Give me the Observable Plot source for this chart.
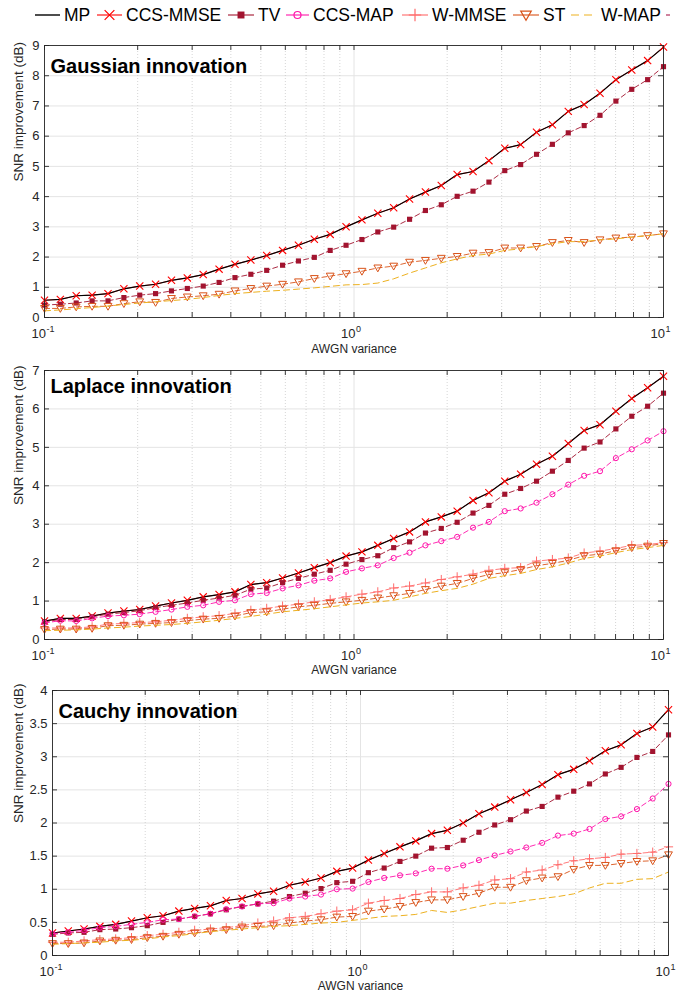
<!DOCTYPE html>
<html><head><meta charset="utf-8">
<script src="https://cdn.jsdelivr.net/npm/d3@7"></script>
<script src="https://cdn.jsdelivr.net/npm/@observablehq/plot@0.6"></script>
<style>
html,body{margin:0;padding:0;background:#fff;}
#wrap{position:relative;width:690px;height:996px;overflow:hidden;font-family:"Liberation Sans",Arial,Helvetica,sans-serif;}
#wrap svg{position:absolute;left:0;}
</style></head><body><div id="wrap"></div>
<script>
// ---------------- data ----------------
const variance = [0.1,0.1125,0.1266,0.1425,0.1604,0.1805,0.2031,0.2285,0.2572,0.2894,0.3257,0.3665,0.4125,0.4642,0.5223,0.5878,0.6615,0.7444,0.8377,0.9427,1.0608,1.1938,1.3434,1.5118,1.7013,1.9145,2.1544,2.4244,2.7282,3.0702,3.4551,3.8882,4.3755,4.9239,5.5410,6.2355,7.0170,7.8970,8.8862,10];
const seriesNames = ["MP","CCS-MMSE","TV","CCS-MAP","W-MMSE","ST","W-MAP"];
const panelTitles = ["Gaussian innovation","Laplace innovation","Cauchy innovation"];
const xMajorTicks = [0.1,1,10];
const xMajorExponents = ["-1","0","1"];
const xMinorTicks = [0.2,0.3,0.4,0.5,0.6,0.7,0.8,0.9,2,3,4,5,6,7,8,9];
const yTicksGauss = [0,1,2,3,4,5,6,7,8,9];
const yTicksLaplace = [0,1,2,3,4,5,6,7];
const yTicksCauchy = [0,0.5,1,1.5,2,2.5,3,3.5,4];
const xLabel = "AWGN variance";
const yLabel = "SNR improvement (dB)";

// Gaussian innovation
const gaussMP = [0.57,0.6,0.72,0.74,0.79,0.95,1.04,1.1,1.23,1.31,1.42,1.6,1.76,1.9,2.05,2.22,2.39,2.59,2.75,3.0,3.23,3.45,3.63,3.92,4.15,4.37,4.73,4.83,5.19,5.6,5.72,6.13,6.38,6.82,7.05,7.42,7.87,8.19,8.5,8.94];
const gaussCCSMMSE = [0.57,0.6,0.72,0.74,0.79,0.95,1.04,1.1,1.23,1.31,1.42,1.6,1.76,1.9,2.05,2.22,2.39,2.59,2.75,3.0,3.23,3.45,3.63,3.92,4.15,4.37,4.73,4.83,5.19,5.6,5.72,6.13,6.38,6.82,7.05,7.42,7.87,8.19,8.5,8.95];
const gaussTV = [0.41,0.44,0.48,0.55,0.55,0.66,0.74,0.79,0.88,0.96,1.04,1.16,1.32,1.43,1.56,1.73,1.87,1.99,2.22,2.39,2.58,2.83,2.99,3.25,3.54,3.73,4.01,4.18,4.48,4.86,5.06,5.4,5.73,6.11,6.35,6.69,7.16,7.55,7.87,8.3];
const gaussST = [0.3,0.3,0.35,0.37,0.37,0.46,0.52,0.5,0.63,0.68,0.72,0.77,0.88,0.96,1.04,1.1,1.18,1.29,1.37,1.45,1.53,1.64,1.7,1.83,1.89,1.96,2.02,2.13,2.15,2.3,2.3,2.35,2.48,2.55,2.48,2.57,2.63,2.66,2.71,2.77];
const gaussWMAP = [0.22,0.25,0.29,0.33,0.38,0.43,0.48,0.52,0.56,0.6,0.66,0.73,0.79,0.83,0.87,0.9,0.94,0.98,1.03,1.08,1.09,1.14,1.28,1.47,1.64,1.81,1.94,2.05,2.1,2.22,2.27,2.35,2.44,2.51,2.51,2.57,2.6,2.66,2.71,2.77];

// Laplace innovation
const lapMP = [0.48,0.55,0.55,0.61,0.69,0.74,0.78,0.87,0.95,1.02,1.11,1.17,1.24,1.43,1.48,1.6,1.73,1.87,2.0,2.17,2.28,2.45,2.63,2.8,3.06,3.19,3.34,3.62,3.82,4.12,4.3,4.56,4.77,5.1,5.44,5.59,5.94,6.27,6.55,6.85];
const lapCCSMMSE = [0.48,0.55,0.55,0.61,0.69,0.74,0.78,0.87,0.95,1.02,1.11,1.17,1.24,1.43,1.48,1.6,1.73,1.87,2.0,2.17,2.28,2.45,2.63,2.8,3.06,3.19,3.34,3.62,3.82,4.12,4.3,4.56,4.77,5.1,5.44,5.59,5.94,6.27,6.55,6.85];
const lapTV = [0.46,0.52,0.52,0.59,0.66,0.7,0.75,0.83,0.89,0.95,1.02,1.08,1.15,1.31,1.34,1.48,1.59,1.7,1.8,1.96,2.08,2.18,2.39,2.54,2.77,2.89,3.05,3.29,3.49,3.78,3.93,4.12,4.38,4.66,4.98,5.14,5.48,5.81,6.07,6.41];
const lapCCSMAP = [0.43,0.49,0.48,0.55,0.61,0.63,0.66,0.72,0.78,0.85,0.89,0.98,1.02,1.18,1.21,1.33,1.41,1.53,1.59,1.76,1.85,1.93,2.12,2.26,2.45,2.56,2.67,2.91,3.06,3.34,3.41,3.56,3.78,4.03,4.26,4.38,4.72,4.95,5.18,5.42];
const lapWMMSE = [0.3,0.3,0.3,0.33,0.4,0.42,0.44,0.46,0.5,0.55,0.59,0.62,0.68,0.76,0.81,0.87,0.92,0.98,1.04,1.11,1.18,1.24,1.34,1.39,1.47,1.56,1.63,1.7,1.8,1.85,1.87,2.04,2.08,2.12,2.25,2.3,2.37,2.45,2.47,2.52];
const lapST = [0.26,0.27,0.27,0.29,0.36,0.37,0.4,0.42,0.44,0.49,0.53,0.55,0.61,0.7,0.72,0.79,0.85,0.89,0.94,0.98,1.02,1.08,1.14,1.2,1.3,1.39,1.46,1.59,1.69,1.74,1.82,1.92,1.98,2.06,2.18,2.22,2.31,2.39,2.43,2.5];
const lapWMAP = [0.23,0.24,0.25,0.27,0.3,0.32,0.35,0.37,0.39,0.42,0.46,0.5,0.55,0.6,0.66,0.72,0.76,0.8,0.85,0.9,0.95,0.98,1.02,1.11,1.2,1.27,1.33,1.44,1.59,1.66,1.72,1.82,1.89,1.99,2.11,2.17,2.26,2.34,2.39,2.45];

// Cauchy innovation
const cauMP = [0.34,0.37,0.4,0.44,0.47,0.52,0.57,0.6,0.67,0.71,0.75,0.83,0.86,0.93,0.97,1.06,1.11,1.17,1.27,1.32,1.44,1.54,1.64,1.73,1.84,1.89,2.0,2.14,2.24,2.35,2.46,2.58,2.73,2.81,2.94,3.09,3.18,3.35,3.45,3.71];
const cauCCSMMSE = [0.34,0.37,0.4,0.44,0.47,0.52,0.57,0.6,0.67,0.71,0.75,0.83,0.86,0.93,0.97,1.06,1.11,1.17,1.27,1.32,1.44,1.54,1.64,1.73,1.84,1.89,2.0,2.14,2.24,2.35,2.46,2.58,2.73,2.81,2.94,3.09,3.18,3.35,3.45,3.71];
const cauTV = [0.32,0.34,0.35,0.39,0.4,0.42,0.45,0.5,0.55,0.59,0.63,0.69,0.74,0.78,0.82,0.89,0.94,1.01,1.1,1.12,1.25,1.32,1.42,1.5,1.62,1.63,1.74,1.86,1.97,2.05,2.18,2.25,2.39,2.48,2.59,2.74,2.84,2.99,3.08,3.33];
const cauCCSMAP = [0.33,0.35,0.38,0.42,0.44,0.47,0.5,0.54,0.55,0.59,0.63,0.7,0.74,0.78,0.79,0.86,0.89,0.92,1.0,1.01,1.11,1.17,1.21,1.24,1.31,1.31,1.36,1.44,1.51,1.57,1.63,1.7,1.81,1.84,1.91,2.06,2.1,2.21,2.37,2.59];
const cauWMMSE = [0.2,0.2,0.22,0.24,0.25,0.27,0.3,0.32,0.35,0.38,0.4,0.42,0.45,0.49,0.52,0.57,0.59,0.63,0.67,0.69,0.79,0.83,0.86,0.92,0.96,0.96,1.02,1.06,1.14,1.16,1.26,1.29,1.37,1.43,1.46,1.48,1.53,1.54,1.56,1.64];
const cauST = [0.18,0.18,0.19,0.22,0.23,0.24,0.27,0.29,0.32,0.34,0.37,0.39,0.43,0.44,0.45,0.49,0.52,0.54,0.58,0.59,0.67,0.7,0.74,0.8,0.84,0.84,0.89,0.94,1.03,1.03,1.13,1.17,1.19,1.3,1.36,1.36,1.39,1.42,1.43,1.52];
const cauWMAP = [0.17,0.18,0.19,0.2,0.22,0.23,0.25,0.28,0.3,0.33,0.36,0.38,0.4,0.42,0.44,0.45,0.47,0.49,0.5,0.53,0.56,0.59,0.6,0.62,0.68,0.65,0.69,0.74,0.79,0.79,0.83,0.86,0.89,0.93,1.02,1.09,1.09,1.15,1.16,1.26];

// ---------------- styles ----------------
const FONT = '"Liberation Sans", Arial, Helvetica, sans-serif';
const AX = "#262626";
const symTimes = {draw(c, s){const r=Math.sqrt(s/Math.PI); c.moveTo(-r,-r); c.lineTo(r,r); c.moveTo(-r,r); c.lineTo(r,-r);}};
const symPlus = {draw(c, s){const r=Math.sqrt(s/Math.PI); c.moveTo(-r,0); c.lineTo(r,0); c.moveTo(0,-r); c.lineTo(0,r);}};
const symTri = {draw(c, s){const r=Math.sqrt(s/Math.PI); c.moveTo(-r,-r*0.75); c.lineTo(r,-r*0.75); c.lineTo(0,r); c.closePath();}};
const styles = {
  "MP":       {stroke:"#000000", width:1.2, dash:null},
  "CCS-MMSE": {stroke:"#ff0000", width:0.8, dash:null, symbol:symTimes, r:3.6, fill:"none", sw:1.1},
  "TV":       {stroke:"#a2142f", width:0.9, dash:"5,3", symbol:"square", r:2.9, fill:"#a2142f", sw:0},
  "CCS-MAP":  {stroke:"#ff14aa", width:0.9, dash:"5,3", symbol:"circle", r:2.6, fill:"none", sw:1},
  "W-MMSE":   {stroke:"#ff6b6b", width:0.9, dash:"5,3", symbol:symPlus, r:4.6, fill:"none", sw:1},
  "ST":       {stroke:"#d95319", width:0.9, dash:"5,3", symbol:symTri, r:3.9, fill:"none", sw:1},
  "W-MAP":    {stroke:"#edb120", width:1.0, dash:"6,4", symbol:null}
};
const drawOrder = ["CCS-MMSE-line","MP","CCS-MMSE-dot","TV","CCS-MAP","W-MMSE","ST","W-MAP"];

const wrap = document.getElementById("wrap");

// ---------------- legend ----------------
const legendLineX = [35, 97, 228, 286, 402, 513, 571];
const legendTextX = [64, 126, 258, 313, 432, 543, 601];
(function legend(){
  const svg = d3.create("svg").attr("width",690).attr("height",30).style("top","0px").style("font-family",FONT);
  seriesNames.forEach((name,i)=>{
    const st = styles[name];
    const x0 = legendLineX[i], x1 = legendTextX[i]-4;
    const g = svg.append("g");
    g.append("line").attr("x1",x0).attr("x2",x1).attr("y1",15).attr("y2",15)
      .attr("stroke",st.stroke).attr("stroke-width", name==="MP"?1.4:1.1)
      .attr("stroke-dasharray", name==="W-MAP" ? "8,5" : null);
    const cx = (x0+x1)/2;
    if (st.symbol) {
      const sym = typeof st.symbol === "string" ? (st.symbol==="square"? d3.symbolSquare : d3.symbolCircle) : st.symbol;
      const rr = st.r*1.35;
      g.append("path").attr("transform",`translate(${cx},15)`)
        .attr("d", d3.symbol(sym, Math.PI*rr*rr)())
        .attr("fill", st.fill==="none"?"none":st.fill)
        .attr("stroke", st.fill==="none"?st.stroke:"none").attr("stroke-width",1.2);
    }
    g.append("text").attr("x",legendTextX[i]).attr("y",21).attr("font-size",17.5).attr("fill","#000").text(name);
  });
  svg.append("line").attr("x1",666).attr("x2",670).attr("y1",15).attr("y2",15).attr("stroke","#b0305c").attr("stroke-width",1.2);
  wrap.appendChild(svg.node());
})();

// ---------------- panels ----------------
function panel(cfg){
  const W = 690;
  const iw = W - cfg.ml - cfg.mr;
  const ih = cfg.h - cfg.mt - cfg.mb;
  const rows = name => variance.map((x,i)=>({x, y: cfg.values[name][i]}));
  const marks = [];
  marks.push(Plot.ruleY(cfg.yTicks, {stroke:"#e4e4e4", strokeWidth:1}));
  marks.push(Plot.ruleX(xMinorTicks, {stroke:"#c4c4c4", strokeWidth:0.7, strokeDasharray:"1,2"}));
  marks.push(Plot.ruleX(xMajorTicks, {stroke:"#e4e4e4", strokeWidth:1}));
  for (const key of drawOrder) {
    const name = key.replace(/-line$|-dot$/,"");
    if (!cfg.values[name]) continue;
    const st = styles[name];
    const data = rows(name);
    if (!key.endsWith("-dot")) {
      marks.push(Plot.line(data, {x:"x", y:"y", stroke:st.stroke, strokeWidth:st.width, strokeDasharray:st.dash||undefined}));
    }
    if (st.symbol && !key.endsWith("-line")) {
      marks.push(Plot.dot(data, {x:"x", y:"y", symbol:st.symbol, r:st.r, fill:st.fill, stroke: st.fill==="none"?st.stroke:"none", strokeWidth:st.sw||1}));
    }
  }
  marks.push(Plot.frame({stroke:AX, strokeWidth:0.9}));
  const allX = xMajorTicks.concat(xMinorTicks);
  marks.push(Plot.ruleX(allX, {insetTop: ih-5, stroke:AX, strokeWidth:0.9}));
  marks.push(Plot.ruleX(allX, {insetBottom: ih-5, stroke:AX, strokeWidth:0.9}));
  marks.push(Plot.ruleY(cfg.yTicks, {insetRight: iw-5, stroke:AX, strokeWidth:0.9}));
  marks.push(Plot.ruleY(cfg.yTicks, {insetLeft: iw-5, stroke:AX, strokeWidth:0.9}));
  // y tick labels
  marks.push(Plot.text(cfg.yTicks, {y:d=>d, frameAnchor:"left", textAnchor:"end", dx:-5, text:d=>String(d), fontSize:13, fill:AX}));
  // x tick labels 10^k
  const xt = xMajorTicks.map((v,i)=>({v, e:xMajorExponents[i]}));
  marks.push(Plot.text(xt, {x:"v", frameAnchor:"bottom", textAnchor:"end", lineAnchor:"bottom", dx:1.5, dy:20, text:()=>"10", fontSize:13, fill:AX}));
  marks.push(Plot.text(xt, {x:"v", frameAnchor:"bottom", textAnchor:"start", lineAnchor:"bottom", dx:2, dy:14, text:"e", fontSize:9, fill:AX}));
  // axis labels
  marks.push(Plot.text([xLabel], {frameAnchor:"bottom", lineAnchor:"bottom", dy:cfg.xlDy, fontSize:12, fill:AX}));
  marks.push(Plot.text([yLabel], {frameAnchor:"left", rotate:-90, dx:18-cfg.ml, lineAnchor:"middle", fontSize:13.5, fill:AX}));
  // title
  marks.push(Plot.text([cfg.title], {frameAnchor:"top-left", textAnchor:"start", lineAnchor:"bottom", dx:6, dy:cfg.titleDy, fontSize:20, fontWeight:"bold", fill:"#000"}));
  const svg = Plot.plot({
    width: W, height: cfg.h,
    marginTop: cfg.mt, marginBottom: cfg.mb, marginLeft: cfg.ml, marginRight: cfg.mr,
    x: {type:"log", domain:[0.1,10], axis:null},
    y: {domain:[0,cfg.yMax], axis:null},
    style: {fontFamily: FONT, background:"white", overflow:"visible"},
    marks
  });
  svg.style.position = "absolute";
  svg.style.top = cfg.top + "px";
  svg.style.left = "0px";
  wrap.appendChild(svg);
}

panel({title:panelTitles[0], top:30, h:327, mt:15, mb:40, ml:44, mr:27, yMax:9, yTicks:yTicksGauss, titleDy:27, xlDy:35,
  values:{"MP":gaussMP,"CCS-MMSE":gaussCCSMMSE,"TV":gaussTV,"ST":gaussST,"W-MAP":gaussWMAP}});
panel({title:panelTitles[1], top:357, h:318, mt:13, mb:36, ml:44, mr:27, yMax:7, yTicks:yTicksLaplace, titleDy:22, xlDy:34,
  values:{"MP":lapMP,"CCS-MMSE":lapCCSMMSE,"TV":lapTV,"CCS-MAP":lapCCSMAP,"W-MMSE":lapWMMSE,"ST":lapST,"W-MAP":lapWMAP}});
panel({title:panelTitles[2], top:675, h:321, mt:15, mb:41, ml:52, mr:22, yMax:4, yTicks:yTicksCauchy, titleDy:27, xlDy:34,
  values:{"MP":cauMP,"CCS-MMSE":cauCCSMMSE,"TV":cauTV,"CCS-MAP":cauCCSMAP,"W-MMSE":cauWMMSE,"ST":cauST,"W-MAP":cauWMAP}});
</script>
</body></html>
